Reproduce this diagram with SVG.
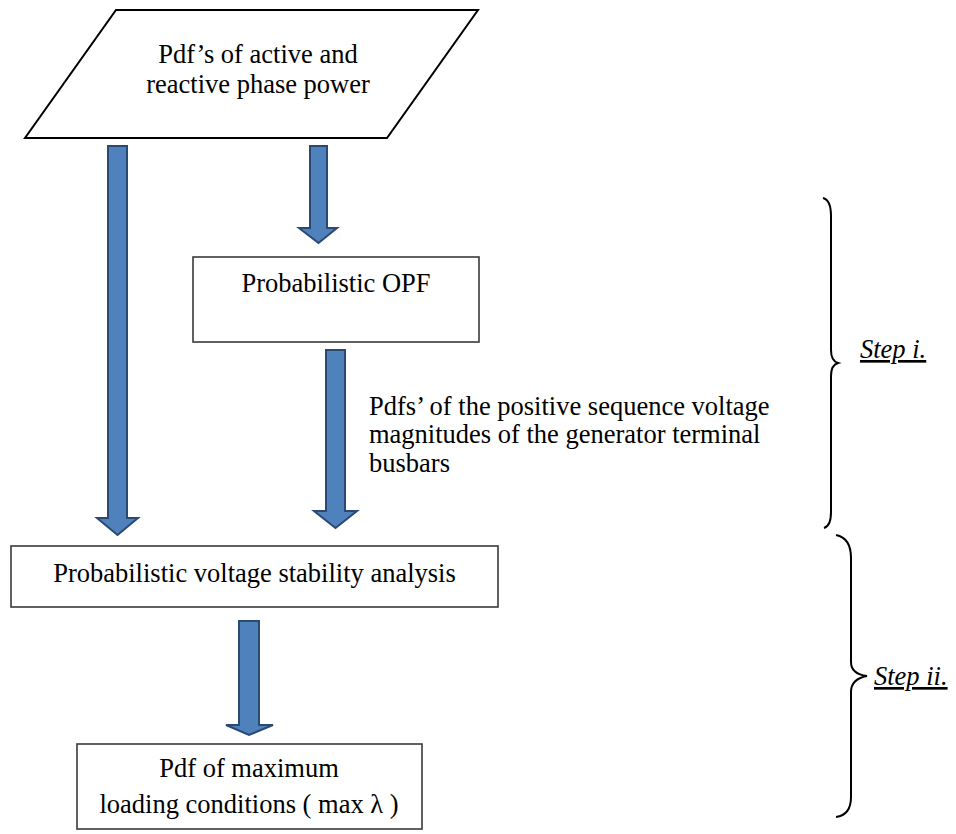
<svg xmlns="http://www.w3.org/2000/svg" width="956" height="834" viewBox="0 0 956 834">
<style>
text{font-family:"Liberation Serif","Times New Roman",serif;font-size:26.5px;fill:#000}
.box{fill:#fff;stroke:#3a3a3a;stroke-width:1.6}
.para{fill:#fff;stroke:#000;stroke-width:2}
.arrow{fill:#4F81BD;stroke:#2B4A72;stroke-width:2;stroke-linejoin:miter}
.brace{fill:none;stroke:#000;stroke-width:2}
.step{font-style:italic;text-decoration:underline}
</style>
<rect width="956" height="834" fill="#fff"/>
<g id="input">
<polygon class="para" points="116,10 478,10 387,138 25,138"/>
<text x="258" y="63" text-anchor="middle">Pdf’s of active and</text>
<text x="258" y="93" text-anchor="middle">reactive phase power</text>
</g>
<g id="opf">
<rect class="box" x="193" y="257" width="286" height="85"/>
<text x="336" y="292" text-anchor="middle">Probabilistic OPF</text>
</g>
<g id="pvsa">
<rect class="box" x="11" y="546" width="487" height="61"/>
<text x="254.5" y="582" text-anchor="middle">Probabilistic voltage stability analysis</text>
</g>
<g id="result">
<rect class="box" x="77" y="744" width="345" height="85"/>
<text x="249" y="777" text-anchor="middle">Pdf of maximum</text>
<text x="249" y="813" text-anchor="middle">loading conditions ( max λ )</text>
</g>
<g id="connectors">
<polygon class="arrow" points="108,146 127,146 127,518 138,518 117.5,535 97,518 108,518"/>
<polygon class="arrow" points="310,146 327,146 327,228 337,228 318.5,243 299,228 310,228"/>
<polygon class="arrow" points="326,350 345,350 345,511 357,511 335.5,528 314,511 326,511"/>
<polygon class="arrow" points="239,621 259,621 259,725 273,725 249,735 226,725 239,725"/>
<text x="369" y="415">Pdfs’ of the positive sequence voltage</text>
<text x="369" y="443">magnitudes of the generator terminal</text>
<text x="369" y="472">busbars</text>
</g>
<g id="step1">
<path class="brace" d="M823,198 Q831,200 831,216 L831,350 Q831,361 838,363 Q831,365 831,376 L831,512 Q831,526 824,528"/>
<text class="step" x="860" y="358">Step i.</text>
</g>
<g id="step2">
<path class="brace" d="M836,535 Q851,538 851,558 L851,662 Q851,674 867,676 Q851,679 851,692 L851,797 Q851,815 836,817"/>
<text class="step" x="874" y="685">Step ii.</text>
</g>
</svg>
